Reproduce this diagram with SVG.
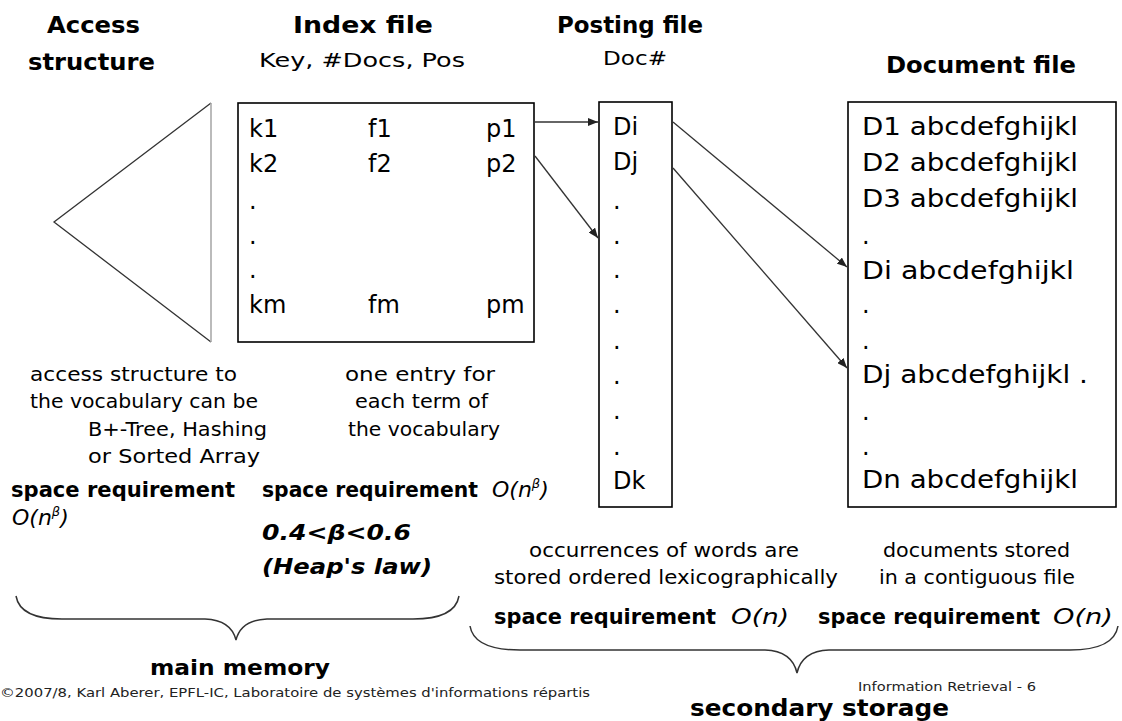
<svg xmlns="http://www.w3.org/2000/svg" width="1122" height="721" viewBox="0 0 1122 721">
<style>
text{font-family:"DejaVu Sans","Liberation Sans",sans-serif;fill:#000}
.h{font-weight:bold;font-size:23px}
.r{font-size:20px}
.b{font-size:24px}
.l{font-size:19px}
.s{font-weight:bold;font-size:22px}
.i{font-style:italic;font-size:22px}
.bi{font-weight:bold;font-style:italic;font-size:22px}
.f{font-size:13px;fill:#222}
.box{fill:#fff;stroke:#000;stroke-width:1.6}
.con{stroke:#333;stroke-width:1.3;fill:none}
.brace{stroke:#333;stroke-width:1.5;fill:none}
</style>
<defs>
<marker id="ah" markerWidth="10" markerHeight="8" refX="10" refY="4" orient="auto" markerUnits="userSpaceOnUse">
<path d="M0,0 L10,4 L0,8 Z" fill="#222"/>
</marker>
</defs>
<rect width="1122" height="721" fill="#fff"/>

<g id="headers">
<text class="h" x="47" y="33" textLength="93" lengthAdjust="spacingAndGlyphs">Access</text>
<text class="h" x="28" y="70" textLength="127" lengthAdjust="spacingAndGlyphs">structure</text>
<text class="h" x="293" y="33" textLength="140" lengthAdjust="spacingAndGlyphs">Index file</text>
<text class="r" x="259" y="67" textLength="206" lengthAdjust="spacingAndGlyphs">Key, #Docs, Pos</text>
<text class="h" x="557" y="33" textLength="146" lengthAdjust="spacingAndGlyphs">Posting file</text>
<text class="r" x="603" y="65" textLength="64" lengthAdjust="spacingAndGlyphs">Doc#</text>
<text class="h" x="886" y="73" textLength="190" lengthAdjust="spacingAndGlyphs">Document file</text>
</g>

<g id="access-structure">
<path d="M211,103 L54,222 L211,342" fill="none" stroke="#333" stroke-width="1.3"/>
<path d="M211,103 L211,342" fill="none" stroke="#aaa" stroke-width="1.6"/>
</g>

<g id="index-file">
<rect class="box" x="238" y="103" width="296" height="239"/>
<text class="b" x="249" y="137">k1</text>
<text class="b" x="368" y="137">f1</text>
<text class="b" x="486" y="137">p1</text>
<text class="b" x="249" y="172">k2</text>
<text class="b" x="368" y="172">f2</text>
<text class="b" x="486" y="172">p2</text>
<text class="b" x="249" y="209">.</text>
<text class="b" x="249" y="244">.</text>
<text class="b" x="249" y="278">.</text>
<text class="b" x="249" y="313">km</text>
<text class="b" x="368" y="313">fm</text>
<text class="b" x="486" y="313">pm</text>
</g>

<g id="posting-file">
<rect class="box" x="599" y="102" width="73" height="405"/>
<text class="b" x="613" y="135">Di</text>
<text class="b" x="613" y="170">Dj</text>
<text class="b" x="613" y="209">.</text>
<text class="b" x="613" y="244">.</text>
<text class="b" x="613" y="278">.</text>
<text class="b" x="613" y="313">.</text>
<text class="b" x="613" y="349">.</text>
<text class="b" x="613" y="384">.</text>
<text class="b" x="613" y="419">.</text>
<text class="b" x="613" y="455">.</text>
<text class="b" x="613" y="489">Dk</text>
</g>

<g id="document-file">
<rect class="box" x="848" y="102" width="268" height="405"/>
<text class="b" x="862" y="135" textLength="216" lengthAdjust="spacingAndGlyphs">D1 abcdefghijkl</text>
<text class="b" x="862" y="171" textLength="216" lengthAdjust="spacingAndGlyphs">D2 abcdefghijkl</text>
<text class="b" x="862" y="207" textLength="216" lengthAdjust="spacingAndGlyphs">D3 abcdefghijkl</text>
<text class="b" x="862" y="244">.</text>
<text class="b" x="862" y="279" textLength="212" lengthAdjust="spacingAndGlyphs">Di abcdefghijkl</text>
<text class="b" x="862" y="313">.</text>
<text class="b" x="862" y="349">.</text>
<text class="b" x="862" y="383" textLength="226" lengthAdjust="spacingAndGlyphs">Dj abcdefghijkl .</text>
<text class="b" x="862" y="420">.</text>
<text class="b" x="862" y="455">.</text>
<text class="b" x="862" y="488" textLength="216" lengthAdjust="spacingAndGlyphs">Dn abcdefghijkl</text>
</g>

<g id="connectors">
<line class="con" x1="535" y1="122" x2="598" y2="122" marker-end="url(#ah)"/>
<line class="con" x1="535" y1="156" x2="598" y2="238" marker-end="url(#ah)"/>
<line class="con" x1="673" y1="122" x2="847" y2="267" marker-end="url(#ah)"/>
<line class="con" x1="673" y1="168" x2="847" y2="368" marker-end="url(#ah)"/>
</g>

<g id="notes">
<text class="l" x="30" y="381" textLength="207" lengthAdjust="spacingAndGlyphs">access structure to</text>
<text class="l" x="30" y="408" textLength="228" lengthAdjust="spacingAndGlyphs">the vocabulary can be</text>
<text class="l" x="88" y="436" textLength="179" lengthAdjust="spacingAndGlyphs">B+-Tree, Hashing</text>
<text class="l" x="88" y="463" textLength="172" lengthAdjust="spacingAndGlyphs">or Sorted Array</text>
<text class="l" x="345" y="381" textLength="150" lengthAdjust="spacingAndGlyphs">one entry for</text>
<text class="l" x="355" y="408" textLength="133" lengthAdjust="spacingAndGlyphs">each term of</text>
<text class="l" x="348" y="436" textLength="152" lengthAdjust="spacingAndGlyphs">the vocabulary</text>

<text class="s" x="11" y="497" textLength="224" lengthAdjust="spacingAndGlyphs">space requirement</text>
<text class="i" x="12" y="525">O(n<tspan font-size="13" dy="-9">β</tspan><tspan dy="9">)</tspan></text>
<text class="s" x="262" y="497" textLength="216" lengthAdjust="spacingAndGlyphs">space requirement</text>
<text class="i" x="492" y="497">O(n<tspan font-size="13" dy="-9">β</tspan><tspan dy="9">)</tspan></text>
<text class="bi" x="262" y="540" textLength="149" lengthAdjust="spacingAndGlyphs">0.4&lt;β&lt;0.6</text>
<text class="bi" x="262" y="574" textLength="170" lengthAdjust="spacingAndGlyphs">(Heap's law)</text>

<text class="l" x="529" y="557" textLength="270" lengthAdjust="spacingAndGlyphs">occurrences of words are</text>
<text class="l" x="494" y="584" textLength="344" lengthAdjust="spacingAndGlyphs">stored ordered lexicographically</text>
<text class="l" x="883" y="557" textLength="187" lengthAdjust="spacingAndGlyphs">documents stored</text>
<text class="l" x="879" y="584" textLength="196" lengthAdjust="spacingAndGlyphs">in a contiguous file</text>

<text class="s" x="494" y="624" textLength="222" lengthAdjust="spacingAndGlyphs">space requirement</text>
<text class="i" x="731" y="624" textLength="58" lengthAdjust="spacingAndGlyphs">O(n)</text>
<text class="s" x="818" y="624" textLength="222" lengthAdjust="spacingAndGlyphs">space requirement</text>
<text class="i" x="1053" y="624" textLength="60" lengthAdjust="spacingAndGlyphs">O(n)</text>
</g>

<g id="main-memory">
<path class="brace" d="M16,596 Q20,619 62,619 L205,619 Q231,620 236,640 Q241,620 267,619 L413,619 Q455,619 459,596"/>
<text class="s" x="150" y="675" textLength="180" lengthAdjust="spacingAndGlyphs">main memory</text>
</g>

<g id="secondary-storage">
<path class="brace" d="M470,626 Q474,650 520,650 L765,650 Q792,651 797,673 Q802,651 829,650 L1070,650 Q1114,650 1118,626"/>
<text class="h" x="690" y="716" textLength="259" lengthAdjust="spacingAndGlyphs">secondary storage</text>
</g>

<g id="footer">
<text class="f" x="0" y="697" textLength="590" lengthAdjust="spacingAndGlyphs">©2007/8, Karl Aberer, EPFL-IC, Laboratoire de systèmes d'informations répartis</text>
<text class="f" x="858" y="691" textLength="178" lengthAdjust="spacingAndGlyphs">Information Retrieval - 6</text>
</g>
</svg>
